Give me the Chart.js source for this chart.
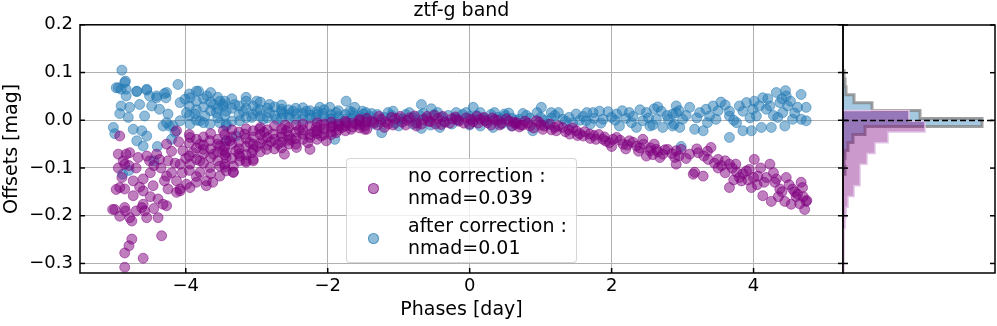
<!DOCTYPE html>
<html>
<head>
<meta charset="utf-8">
<script src="https://cdn.jsdelivr.net/npm/chart.js@4.4.1/dist/chart.umd.min.js"></script>
<style>
  body { margin: 0; background: #fff; overflow: hidden; }
  #wrap { position: relative; width: 997px; height: 326px; font-family: 'DejaVu Sans', sans-serif; }
  #main { position: absolute; left: 0; top: 0; }
  #hist { position: absolute; left: 833px; top: 0; }
  #legend {
    position: absolute; left: 346px; top: 158px; width: 231px; height: 105px;
    box-sizing: border-box; border: 1px solid rgba(204,204,204,0.8); border-radius: 4px;
    background: rgba(255,255,255,0.8);
  }
  #legend .mk { position: absolute; left: 21px; width: 11px; height: 11px; border-radius: 50%; box-sizing: border-box; }
  #legend .txt { position: absolute; left: 61px; font-size: 19px; line-height: 22px; color: #000; white-space: nowrap; }
</style>
</head>
<body>
<div id="wrap">
  <canvas id="main" width="997" height="326"></canvas>
  <canvas id="hist" width="164" height="326"></canvas>
  <div id="legend">
    <div class="mk" style="top:24px;background:rgba(128,0,128,0.5);border:1px solid rgba(128,0,128,0.6)"></div>
    <div class="txt" style="top:5px">no correction :<br>nmad=0.039</div>
    <div class="mk" style="top:74px;background:rgba(31,119,180,0.5);border:1px solid rgba(31,119,180,0.6)"></div>
    <div class="txt" style="top:55px">after correction :<br>nmad=0.01</div>
  </div>
</div>
<script>
// ztf-g band: residual offsets vs phase, before / after correction

const phaseTicks = [-4, -2, 0, 2, 4];
const offsetTicks = [-0.3, -0.2, -0.1, 0.0, 0.1, 0.2];

// [phase, offset]
const noCorrection = [
    [-4.93,-0.033],[-4.95,-0.071],[-4.88,-0.085],[-4.86,-0.092],
    [-4.84,-0.071],[-4.79,-0.068],[-4.67,-0.078],[-4.55,-0.075],[-4.51,-0.085],[-4.41,-0.071],[-4.37,-0.082],[-4.27,-0.050],[-4.13,-0.022],[-4.25,-0.085],
    [-4.93,-0.141],[-4.86,-0.144],[-4.74,-0.127],[-4.60,-0.123],[-4.60,-0.148],[-4.46,-0.137],[-4.30,-0.127],[-4.25,-0.144],[-4.13,-0.151],[-4.08,-0.144],[-4.74,-0.158],[-4.39,-0.165],[-4.32,-0.176],[-4.27,-0.179],
    [-5.00,-0.187],[-4.93,-0.201],[-4.86,-0.183],[-4.79,-0.204],[-4.76,-0.211],[-4.62,-0.183],[-4.58,-0.190],[-4.55,-0.204],[-4.39,-0.204],[-4.60,-0.176],[-5.03,-0.187],
    [-4.76,-0.249],[-4.80,-0.263],[-4.86,-0.278],[-4.60,-0.289],[-4.86,-0.308],[-4.34,-0.242],
    [-4.95,-0.100],[-4.90,-0.120],[-4.98,-0.145],[-4.80,-0.095],[-4.70,-0.100],[-4.65,-0.140],[-4.50,-0.110],[-4.45,-0.095],[-4.35,-0.100],[-4.20,-0.110],
    [-4.15,-0.090],[-4.05,-0.110],[-4.20,-0.065],[-4.10,-0.045],[-4.00,-0.080],[-4.85,-0.190],[-4.70,-0.190],[-4.45,-0.185],[-4.50,-0.160],
    [-3.94,-0.036],[-3.80,-0.050],[-3.66,-0.043],[-3.52,-0.054],[-3.43,-0.043],[-4.04,-0.064],[-3.90,-0.068],[-3.75,-0.061],[-3.61,-0.071],[-3.47,-0.064],
    [-4.08,-0.092],[-3.94,-0.092],[-3.80,-0.085],[-3.66,-0.099],[-3.52,-0.096],[-3.43,-0.106],[-4.27,-0.117],[-4.13,-0.127],[-3.99,-0.134],[-3.85,-0.130],
    [-3.71,-0.137],[-4.08,-0.148],[-3.94,-0.141],[-3.80,-0.109],[-3.71,-0.127],[-3.62,-0.130],[-3.52,-0.117],[-3.33,-0.109],[-3.15,-0.088],[-3.05,-0.082],
    [-3.24,-0.075],[-3.43,-0.068],
    [-3.95,-0.030],[-3.95,-0.048],[-3.95,-0.075],[-3.95,-0.105],[-3.85,-0.040],[-3.85,-0.058],[-3.85,-0.082],[-3.85,-0.118],
    [-3.75,-0.035],[-3.75,-0.052],[-3.75,-0.070],[-3.75,-0.090],[-3.65,-0.028],[-3.65,-0.060],[-3.65,-0.078],[-3.65,-0.112],
    [-3.55,-0.040],[-3.55,-0.050],[-3.55,-0.066],[-3.55,-0.085],[-3.45,-0.030],[-3.45,-0.055],[-3.45,-0.072],[-3.45,-0.098],
    [-3.35,-0.020],[-3.35,-0.035],[-3.35,-0.050],[-3.35,-0.080],[-3.25,-0.025],[-3.25,-0.045],[-3.25,-0.060],[-3.25,-0.070],
    [-3.15,-0.018],[-3.15,-0.038],[-3.15,-0.055],[-3.15,-0.072],[-3.05,-0.022],[-3.05,-0.035],[-3.05,-0.050],[-3.05,-0.062],
    [-2.95,-0.015],[-2.95,-0.030],[-2.95,-0.048],[-2.95,-0.066],[-2.85,-0.020],[-2.85,-0.036],[-2.85,-0.052],
    [-2.75,-0.012],[-2.75,-0.040],[-2.75,-0.060],[-2.65,-0.018],[-2.65,-0.028],[-2.65,-0.046],[-2.65,-0.058],
    [-2.55,-0.015],[-2.55,-0.032],[-2.55,-0.042],[-2.45,-0.010],[-2.45,-0.025],[-2.45,-0.038],[-2.45,-0.050],
    [-2.35,-0.008],[-2.35,-0.020],[-2.35,-0.040],[-2.25,-0.012],[-2.25,-0.030],[-2.25,-0.036],
    [-2.15,-0.005],[-2.15,-0.022],[-2.15,-0.028],[-2.15,-0.040],[-2.05,-0.008],[-2.05,-0.018],[-2.05,-0.030],
    [-1.95,-0.004],[-1.95,-0.015],[-1.95,-0.024],[-1.85,-0.008],[-1.85,-0.020],[-1.85,-0.012],
    [-1.75,-0.002],[-1.75,-0.012],[-1.75,-0.022],[-1.65,-0.006],[-1.65,-0.014],[-1.55,-0.010],[-1.55,0.002],[-1.55,-0.016],
    [-1.45,-0.004],[-1.45,0.004],
    [-3.47,-0.022],[-3.38,-0.043],[-3.29,-0.064],[-3.43,-0.078],[-3.33,-0.096],[-3.33,-0.109],[-3.17,-0.029],[-3.10,-0.047],[-3.07,-0.068],[-3.15,-0.085],
    [-2.96,-0.019],[-2.91,-0.040],[-2.86,-0.061],[-2.77,-0.029],[-2.70,-0.050],[-2.61,-0.071],[-2.58,-0.022],[-2.51,-0.040],[-2.44,-0.057],[-2.35,-0.029],
    [-2.28,-0.047],[-2.25,-0.061],[-2.16,-0.015],[-2.09,-0.033],[-2.02,-0.043],[-1.93,-0.012],[-1.88,-0.026],[-1.74,-0.005],[-1.67,-0.019],[-1.55,-0.001],
    [-1.48,-0.012],[-1.45,-0.019],[-3.45,-0.092],[-3.24,-0.085],[-3.05,-0.085],
    [-2.80,-0.045],[-2.65,-0.035],[-2.55,-0.050],[-2.40,-0.020],[-2.20,-0.025],[-2.10,-0.010],[-1.95,-0.030],[-1.80,-0.015],[-1.60,-0.008],[-3.00,-0.055],
    [-2.90,-0.025],[-2.60,-0.010],
    [-1.35,-0.005],[-1.25,0.002],[-1.15,-0.008],[-1.05,0.003],[-0.95,-0.004],[-0.85,0.005],[-0.75,-0.006],[-0.65,0.002],[-0.55,-0.003],[-0.45,0.004],
    [-0.35,-0.004],[-0.25,0.003],[-0.15,-0.002],[-0.05,0.005],[0.05,-0.003],[0.15,0.002],[0.25,-0.005],[0.35,0.001],[0.45,-0.006],[0.55,-0.002],
    [0.65,-0.008],[-1.48,-0.019],[-0.75,-0.012],[-1.30,-0.010],[-1.10,0.006],[-0.90,-0.010],[-0.60,0.008],[-0.40,-0.009],[-0.20,0.007],[0.00,-0.008],
    [0.20,0.006],[0.40,0.000],[0.60,-0.012],[-1.20,-0.015],[-0.50,0.010],[0.10,0.008],[0.30,-0.010],
    [-1.38,-0.002],[-1.28,0.008],[-1.18,-0.004],[-1.08,-0.010],[-0.98,0.008],[-0.88,0.000],[-0.78,0.009],[-0.68,-0.008],[-0.58,-0.002],[-0.48,-0.008],
    [-0.38,0.008],[-0.28,-0.006],[-0.18,0.001],[-0.08,-0.006],[0.02,0.002],[0.12,-0.006],[0.22,-0.001],[0.32,0.005],[0.42,-0.010],[0.52,0.003],
    [0.62,-0.004],[0.72,-0.010],[0.78,-0.002],
    [0.66,-0.005],[0.85,-0.012],[1.03,-0.019],[1.22,-0.022],[1.41,-0.029],[1.60,-0.033],[1.78,-0.040],[1.97,-0.047],[2.16,-0.050],[2.35,-0.054],
    [2.54,-0.064],[2.72,-0.071],[2.89,-0.078],[2.91,-0.092],[0.94,-0.001],[1.13,-0.008],[1.31,-0.015],[1.50,-0.022],[1.69,-0.029],[1.88,-0.040],
    [2.07,-0.036],[2.25,-0.043],[2.44,-0.040],[2.63,-0.061],[2.79,-0.061],[2.49,-0.075],[2.68,-0.078],
    [0.75,-0.010],[1.00,-0.010],[1.20,-0.015],[1.40,-0.020],[1.55,-0.028],[1.75,-0.032],[1.90,-0.035],[2.00,-0.055],[2.20,-0.060],[2.40,-0.058],[2.60,-0.050],
    [0.70,-0.014],[0.82,-0.006],[0.90,-0.016],[0.98,-0.004],[1.05,-0.012],[1.15,-0.020],[1.25,-0.012],[1.35,-0.024],[1.45,-0.016],[1.52,-0.032],
    [1.62,-0.024],[1.70,-0.038],[1.82,-0.030],[1.92,-0.044],[2.02,-0.040],[2.12,-0.042],[2.22,-0.052],[2.30,-0.046],[2.45,-0.050],[2.55,-0.058],
    [2.65,-0.066],[2.75,-0.062],[2.85,-0.070],[2.95,-0.075],[2.58,-0.072],[2.38,-0.065],
    [2.91,-0.064],[3.10,-0.071],[2.98,-0.061],[3.22,-0.068],[3.40,-0.057],[3.36,-0.082],[3.17,-0.109],[3.29,-0.117],[3.50,-0.082],[3.66,-0.092],
    [3.66,-0.141],[3.76,-0.109],[3.83,-0.127],[3.90,-0.106],[3.97,-0.141],[4.01,-0.082],[4.06,-0.117],[4.13,-0.158],[4.18,-0.120],[4.23,-0.092],
    [4.25,-0.170],[4.32,-0.123],[4.37,-0.144],[4.44,-0.170],[4.46,-0.120],[4.53,-0.176],[4.55,-0.144],[4.67,-0.130],[4.69,-0.141],[4.62,-0.155],
    [4.74,-0.170],[4.72,-0.187],[3.15,-0.113],[3.94,-0.103],
    [3.05,-0.080],[3.30,-0.075],[3.55,-0.095],[3.70,-0.100],[3.85,-0.112],[4.00,-0.120],[4.10,-0.100],[4.30,-0.130],[4.40,-0.150],[4.60,-0.160],
    [4.75,-0.168],[3.45,-0.090],
    [3.20,-0.060],[3.35,-0.065],[3.50,-0.100],[3.60,-0.085],[3.75,-0.092],[3.80,-0.120],[3.92,-0.125],[4.05,-0.135],[4.15,-0.130],[4.28,-0.110],
    [4.35,-0.160],[4.50,-0.135],[4.58,-0.150],[4.65,-0.175],[4.70,-0.160],[3.60,-0.110],[3.72,-0.125]
];

const afterCorrection = [
    [-4.90,0.105],[-4.85,0.082],[-4.95,0.068],[-4.84,0.065],[-4.11,0.075],
    [-4.84,0.051],[-4.69,0.060],[-4.55,0.063],[-4.51,0.051],[-4.41,0.047],[-4.30,0.056],[-4.28,0.047],
    [-4.91,0.030],[-4.79,0.027],[-4.65,0.033],[-4.48,0.030],[-4.37,0.023],[-4.25,0.013],[-4.93,0.014],[-4.81,0.006],[-4.58,0.009],
    [-5.02,-0.015],[-5.00,-0.028],[-4.74,-0.019],[-4.62,-0.022],[-4.55,-0.033],[-4.69,-0.043],[-4.60,-0.054],[-4.32,-0.012],[-4.23,-0.012],
    [-4.89,-0.113],[-4.80,-0.105],[-4.45,-0.085],
    [-4.08,0.037],[-3.94,0.047],[-3.82,0.061],[-3.70,0.051],[-3.61,0.033],[-3.52,0.040],[-3.47,0.030],[-3.99,0.016],[-3.87,0.013],[-3.73,0.009],
    [-3.57,0.016],[-3.43,0.019],[-4.27,-0.005],[-4.18,-0.012],[-4.08,-0.001],[-3.94,-0.008],[-3.80,-0.001],[-3.66,-0.008],[-3.52,-0.005],[-3.43,-0.012],
    [-3.85,0.061],[-4.01,0.044],[-4.91,0.065],[-4.98,0.068],[-4.86,0.079],[-4.69,0.061],[-4.55,0.065],[-4.41,0.051],[-4.27,0.058],
    [-4.40,-0.055],[-4.20,-0.040],[-4.15,-0.025],
    [-3.95,0.030],[-3.95,0.010],[-3.95,0.055],[-3.85,0.040],[-3.85,0.022],[-3.85,0.000],[-3.75,0.045],[-3.75,0.028],[-3.75,-0.005],
    [-3.65,0.038],[-3.65,0.020],[-3.65,0.058],[-3.55,0.048],[-3.55,0.025],[-3.55,0.005],[-3.45,0.040],[-3.45,0.010],
    [-3.35,0.025],[-3.35,0.045],[-3.35,-0.002],[-3.25,0.030],[-3.25,0.012],[-3.15,0.025],[-3.15,0.005],[-3.15,0.048],
    [-3.05,0.030],[-3.05,0.012],[-2.95,0.022],[-2.95,0.008],[-2.95,0.038],[-2.85,0.025],[-2.85,0.005],[-2.75,0.028],[-2.75,0.010],
    [-2.65,0.018],[-2.65,0.004],[-2.65,0.032],[-2.55,0.022],[-2.55,0.012],[-2.45,0.025],[-2.45,0.002],[-2.35,0.014],[-2.35,0.026],
    [-2.25,0.020],[-2.25,0.004],[-2.15,0.012],[-2.15,0.018],[-2.05,0.008],[-2.05,0.022],[-1.95,0.012],[-1.95,0.004],
    [-1.85,0.008],[-1.85,0.020],[-1.85,-0.004],[-1.75,0.012],[-1.75,0.002],[-1.65,0.016],[-1.65,0.004],[-1.55,0.008],[-1.55,-0.004],
    [-3.47,0.033],[-3.31,0.033],[-3.15,0.040],[-3.00,0.040],[-2.82,0.033],[-2.65,0.023],[-2.49,0.019],[-2.30,0.019],[-2.11,0.027],[-1.97,0.027],
    [-1.74,0.040],[-1.62,0.027],[-1.46,0.016],
    [-3.43,-0.008],[-3.24,-0.001],[-3.07,0.006],[-2.91,0.002],[-2.72,0.002],[-2.54,0.006],[-2.35,0.002],[-2.16,0.006],[-1.97,0.002],[-1.90,-0.040],
    [-3.43,-0.043],[-3.29,-0.033],[-1.64,0.009],
    [-3.19,0.019],[-3.00,0.019],[-2.82,0.016],[-2.63,0.013],[-2.44,0.013],[-2.25,0.011],[-2.07,0.014],[-1.88,0.016],[-1.69,0.019],[-1.50,0.013],
    [-0.68,0.033],[-1.24,-0.026],[-0.68,-0.017],[0.05,0.027],[-0.42,-0.015],[0.33,-0.015],[-1.51,0.019],[-1.08,0.019],[-0.19,0.016],[-0.54,0.024],
    [0.49,0.013],[0.59,-0.012],
    [-1.40,0.008],[-1.30,0.012],[-1.20,0.006],[-1.10,0.010],[-1.00,0.004],[-0.90,0.012],[-0.80,0.006],[-0.70,0.010],[-0.60,0.004],[-0.50,0.012],
    [-0.40,0.006],[-0.30,0.010],[-0.20,0.004],[-0.10,0.012],[0.00,0.008],[0.10,0.010],[0.20,0.004],[0.30,0.012],[0.40,0.006],[0.50,0.009],
    [0.60,0.004],[-1.35,-0.008],[-1.00,-0.012],[-0.80,-0.008],[-0.55,-0.010],[-0.25,-0.008],[0.00,-0.010],[0.15,-0.012],[0.45,-0.008],
    [-1.45,0.000],[-1.38,0.014],[-1.25,-0.004],[-1.15,0.016],[-1.05,-0.006],[-0.95,0.002],[-0.85,0.016],[-0.75,0.000],[-0.65,0.014],[-0.45,0.016],
    [-0.35,-0.002],[-0.15,0.000],[-0.05,0.016],[0.05,0.002],[0.15,0.016],[0.25,0.000],[0.35,0.016],[0.45,0.002],[0.55,0.015],[0.65,0.000],
    [0.75,0.014],[0.85,0.004],[0.95,0.016],[1.05,0.000],[1.15,0.004],[1.25,0.016],[1.35,-0.002],[1.55,0.000],[1.65,0.016],[1.75,0.004],
    [1.85,-0.006],[1.95,0.018],[2.05,0.000],
    [1.01,0.027],[1.15,0.016],[1.50,0.013],[1.74,0.016],[1.83,0.019],[2.07,0.013],[2.25,0.016],[2.49,0.016],[2.70,0.019],[2.86,0.013],
    [2.91,0.030],[2.11,-0.012],[2.35,-0.015],[2.54,-0.012],[2.72,-0.015],[2.86,-0.012],[0.89,-0.022],[0.70,0.002],[1.31,0.002],[1.64,-0.001],
    [1.88,0.002],[2.44,-0.001],[2.63,0.002],
    [0.80,0.010],[1.00,0.006],[1.20,0.010],[1.40,0.006],[1.60,0.008],[2.00,0.006],[2.20,0.004],[1.10,-0.008],[1.45,-0.006],[1.70,-0.008],
    [2.80,0.002],[2.60,0.024],[2.30,0.008],[2.98,-0.055],
    [2.15,0.020],[2.28,-0.005],[2.40,0.022],[2.52,0.005],[2.58,-0.010],[2.65,0.028],[2.78,0.010],[2.95,0.020],[2.88,-0.008],
    [2.91,0.016],[3.10,0.027],[2.96,-0.015],[3.17,-0.019],[3.29,-0.022],[3.24,0.016],[3.33,0.023],[3.43,0.030],[3.54,0.038],[3.47,0.002],
    [3.66,0.009],[3.66,-0.036],[3.76,-0.005],[3.85,-0.022],[3.90,0.037],[3.99,0.023],[4.01,0.040],[3.97,-0.022],[4.13,0.047],[4.18,0.023],
    [4.11,-0.015],[4.25,-0.015],[4.32,0.058],[4.37,0.037],[4.46,0.051],[4.48,0.030],[4.34,0.006],[4.44,-0.012],[4.55,0.002],[4.62,0.027],
    [4.67,0.054],[4.74,0.027],[4.74,-0.001],[4.67,0.002],[3.66,0.019],[3.85,0.019],[4.04,0.009],[4.23,0.030],[4.41,0.016],[3.38,0.009],
    [3.00,0.002],
    [3.05,0.010],[3.20,0.005],[3.35,-0.005],[3.50,0.020],[3.60,0.032],[3.72,0.000],[3.80,0.030],[3.95,0.005],[4.08,0.030],[4.20,0.045],
    [4.28,0.010],[4.40,0.045],[4.52,0.040],[4.58,0.015],[4.45,0.062]
];

// side histograms (bin edges top to bottom, counts per bin)
const noCorrEdges = [0.0205, -0.002, -0.0245, -0.047, -0.0695, -0.092, -0.1145, -0.137, -0.1595, -0.182, -0.2045, -0.227, -0.2495, -0.272, -0.2945, -0.317];
const noCorrCounts = [66, 82, 45, 32, 24, 17, 17, 11, 5, 3, 2, 1, 1, 1, 1];
const afterEdges = [0.104, 0.0873, 0.0706, 0.0539, 0.0372, 0.0205, 0.0038, -0.0129, -0.0296, -0.0463, -0.0630, -0.0797, -0.0964, -0.1131];
const afterCounts = [1, 2, 3, 11, 29, 77, 139, 22, 10, 5, 2, 1, 2];
const histMax = 152;

const yMin = -0.32, yMax = 0.2;
const xMin = -5.49, xMax = 5.26;

const purple = 'rgba(128,0,128,0.5)';
const blue = 'rgba(31,119,180,0.5)';
const font = "'DejaVu Sans', sans-serif";

Chart.defaults.font.family = font;
Chart.defaults.color = '#000';

function fmt(v) {
    const s = Math.abs(v) < 1e-9 ? '0' : String(Math.abs(v));
    return (v < -1e-9 ? '\u2212' : '') + s;
}

function toPoints(arr) {
    return arr.map(p => ({ x: p[0], y: p[1] }));
}

// closed step outline of a horizontal histogram
function histOutline(edges, counts) {
    const pts = [{ x: 0, y: edges[0] }];
    counts.forEach((c, i) => {
        pts.push({ x: c, y: edges[i] });
        pts.push({ x: c, y: edges[i + 1] });
    });
    pts.push({ x: 0, y: edges[edges.length - 1] });
    return pts;
}

function drawInTicks(ctx, x1, y1, x2, y2) {
    ctx.beginPath();
    ctx.moveTo(x1, y1);
    ctx.lineTo(x2, y2);
    ctx.stroke();
}

const mainFrame = {
    id: 'mainFrame',
    afterDraw(chart) {
        const { ctx, chartArea: a, scales } = chart;
        ctx.save();
        ctx.strokeStyle = '#000';
        ctx.lineWidth = 1.5;
        ctx.strokeRect(a.left, a.top, a.right - a.left, a.bottom - a.top);
        phaseTicks.forEach(v => {
            const px = scales.x.getPixelForValue(v);
            drawInTicks(ctx, px, a.bottom, px, a.bottom - 5);
        });
        offsetTicks.forEach(v => {
            const py = scales.y.getPixelForValue(v);
            drawInTicks(ctx, a.left, py, a.left + 5, py);
            drawInTicks(ctx, a.right, py, a.right - 5, py);
        });
        ctx.restore();
    }
};

const histFrame = {
    id: 'histFrame',
    afterDraw(chart) {
        const { ctx, chartArea: a, scales } = chart;
        ctx.save();
        ctx.strokeStyle = '#000';
        ctx.lineWidth = 1.5;
        ctx.strokeRect(a.left, a.top, a.right - a.left, a.bottom - a.top);
        offsetTicks.forEach(v => {
            const py = scales.y.getPixelForValue(v);
            drawInTicks(ctx, a.left, py, a.left + 5, py);
            drawInTicks(ctx, a.right, py, a.right - 5, py);
        });
        ctx.restore();
    }
};

new Chart(document.getElementById('main'), {
    type: 'scatter',
    data: {
        datasets: [
            {
                label: 'no correction',
                data: toPoints(noCorrection),
                backgroundColor: purple,
                borderColor: purple,
                borderWidth: 1,
                pointRadius: 5,
                order: 1
            },
            {
                label: 'after correction',
                data: toPoints(afterCorrection),
                backgroundColor: blue,
                borderColor: blue,
                borderWidth: 1,
                pointRadius: 5,
                order: 2
            }
        ]
    },
    options: {
        responsive: false,
        animation: false,
        layout: { padding: { left: 0, right: 154, top: 0, bottom: 0 } },
        plugins: {
            legend: { display: false },
            tooltip: { enabled: false },
            title: {
                display: true,
                text: 'ztf-g band',
                fullSize: false,
                font: { size: 19, weight: 'normal' },
                color: '#000',
                padding: { top: 0, bottom: 2 }
            }
        },
        scales: {
            x: {
                type: 'linear',
                min: xMin,
                max: xMax,
                afterBuildTicks: s => { s.ticks = phaseTicks.map(v => ({ value: v })); },
                afterFit: s => { s.height = 53; },
                grid: { color: '#b0b0b0', lineWidth: 1, drawTicks: false },
                border: { display: false },
                ticks: { font: { size: 18 }, color: '#000', padding: 3, callback: v => fmt(v) },
                title: { display: true, text: 'Phases [day]', font: { size: 19 }, color: '#000', padding: { top: 0, bottom: 5 } }
            },
            y: {
                type: 'linear',
                min: yMin,
                max: yMax,
                afterBuildTicks: s => { s.ticks = offsetTicks.map(v => ({ value: v })); },
                afterFit: s => { s.width = 80; },
                grid: { color: '#b0b0b0', lineWidth: 1, drawTicks: false },
                border: { display: false },
                ticks: { font: { size: 18 }, color: '#000', padding: 7, callback: v => fmt(Number(v.toFixed(1))).replace(/^(\u2212?)(\d)$/, '$1$2.0') },
                title: { display: true, text: 'Offsets [mag]', font: { size: 19 }, color: '#000', padding: { top: 1, bottom: 0 } }
            }
        }
    },
    plugins: [mainFrame]
});

new Chart(document.getElementById('hist'), {
    type: 'line',
    data: {
        datasets: [
            {
                label: 'zero',
                data: [{ x: 0, y: 0 }, { x: histMax, y: 0 }],
                borderColor: '#000',
                borderWidth: 1.5,
                borderDash: [6, 3],
                pointRadius: 0,
                fill: false,
                order: 0
            },
            {
                label: 'no correction',
                data: histOutline(noCorrEdges, noCorrCounts),
                backgroundColor: 'rgba(128,0,128,0.4)',
                borderColor: 'rgba(225,195,230,1)',
                borderWidth: 1.5,
                pointRadius: 0,
                tension: 0,
                fill: 'origin',
                order: 1
            },
            {
                label: 'after correction',
                data: histOutline(afterEdges, afterCounts),
                backgroundColor: 'rgba(31,119,180,0.4)',
                borderColor: 'rgba(128,128,128,0.75)',
                borderWidth: 3,
                pointRadius: 0,
                tension: 0,
                fill: 'origin',
                order: 2
            }
        ]
    },
    options: {
        responsive: false,
        animation: false,
        indexAxis: 'y',
        layout: { padding: { left: 10, right: 2, top: 25, bottom: 53 } },
        plugins: { legend: { display: false }, tooltip: { enabled: false } },
        scales: {
            x: { type: 'linear', min: 0, max: histMax, display: false },
            y: { type: 'linear', min: yMin, max: yMax, display: false }
        }
    },
    plugins: [histFrame]
});
</script>
</body>
</html>
